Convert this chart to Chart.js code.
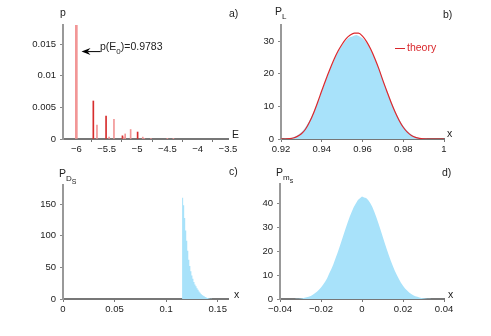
<!DOCTYPE html>
<html><head><meta charset="utf-8">
<script src="https://cdn.jsdelivr.net/npm/chart.js@4.4.1/dist/chart.umd.min.js"></script>
<style>
html,body{margin:0;padding:0;background:#fff;}
#wrap{position:relative;width:491px;height:336px;overflow:hidden;font-family:'Liberation Sans',Arial,sans-serif;color:#222;}
canvas{position:absolute;left:0;top:0;}
.lbl{position:absolute;font-size:10.5px;line-height:1;white-space:nowrap;}
.sub{position:relative;font-size:8px;top:4px;}
.sub2{position:relative;font-size:7px;top:3px;}
</style></head>
<body><div id="wrap">
<canvas id="ca" width="491" height="336"></canvas>
<canvas id="cb" width="491" height="336"></canvas>
<canvas id="cc" width="491" height="336"></canvas>
<canvas id="cd" width="491" height="336"></canvas>
<div class="lbl" style="left:60px;top:7px;">p</div>
<div class="lbl" style="left:229px;top:8px;">a)</div>
<div class="lbl" style="left:232px;top:129px;">E</div>
<div class="lbl" style="left:100px;top:41px;">p(E<span class="sub">0</span>)=0.9783</div>
<div class="lbl" style="left:275px;top:6px;">P<span class="sub">L</span></div>
<div class="lbl" style="left:443px;top:9px;">b)</div>
<div class="lbl" style="left:447px;top:128px;">x</div>
<div class="lbl" style="left:395px;top:42px;color:#d9262b;"><span style="display:inline-block;width:10px;height:1px;background:#d9262b;vertical-align:middle;margin-right:2px;"></span>theory</div>
<div class="lbl" style="left:59px;top:168px;">P<span class="sub">D<span class="sub2">S</span></span></div>
<div class="lbl" style="left:229px;top:166px;">c)</div>
<div class="lbl" style="left:234px;top:289px;">x</div>
<div class="lbl" style="left:276px;top:167px;">P<span class="sub">m<span class="sub2">s</span></span></div>
<div class="lbl" style="left:442px;top:167px;">d)</div>
<div class="lbl" style="left:448px;top:289px;">x</div>
</div>
<script>
// ---------- Data ----------
// Panel a: energy spectrum (probabilities)
const groundE = [-6];
const groundP = [0.9783];
const darkE = [-5.72, -5.51, -5.24, -4.99];
const darkP = [0.0060, 0.0036, 0.0005, 0.0011];
const lightE = [-5.66, -5.46, -5.38, -5.22, -5.195, -5.105, -4.905, -4.88, -4.77, -4.5, -4.4];
const lightP = [0.0022, 0.0003, 0.0031, 0.0003, 0.0008, 0.0015, 0.0003, 0.0001, 0.0001, 0.00004, 0.00003];
const ticksA_x = [-6, -5.5, -5, -4.5, -4, -3.5];
const ticksA_y = [0, 0.005, 0.01, 0.015];

// Panel b: P_L histogram and theory
const histB_x = [0.921,0.922,0.923,0.924,0.925,0.926,0.927,0.928,0.929,0.930,0.931,0.932,0.933,0.934,0.935,0.936,0.937,0.938,0.939,0.940,0.941,0.942,0.943,0.944,0.945,0.946,0.947,0.948,0.949,0.950,0.951,0.952,0.953,0.954,0.955,0.956,0.957,0.958,0.959,0.960,0.961,0.962,0.963,0.964,0.965,0.966,0.967,0.968,0.969,0.970,0.971,0.972,0.973,0.974,0.975,0.976,0.977,0.978,0.979,0.980,0.981,0.982,0.983,0.984,0.985,0.986,0.987,0.988,0.989,0.990,0.991,0.992];
const histB_y = [0,0.05,0.1,0.2,0.3,0.5,0.8,1.1,1.6,2.1,2.8,3.6,4.6,5.7,6.9,8.3,9.8,11.4,13.0,14.6,16.3,18.0,19.6,21.2,22.7,24.1,25.5,26.7,27.8,28.8,29.6,30.3,30.9,31.3,31.5,31.8,31.9,31.7,31.3,30.9,30.3,29.5,28.5,27.4,26.1,24.8,23.3,21.7,20.0,18.3,16.6,14.9,13.2,11.6,10.1,8.6,7.3,6.1,5.0,4.0,3.2,2.5,1.9,1.4,1.0,0.7,0.5,0.3,0.2,0.1,0.05,0];
const theoryB_x = [0.920,0.922,0.924,0.926,0.928,0.930,0.932,0.934,0.936,0.938,0.940,0.942,0.944,0.946,0.948,0.950,0.952,0.954,0.956,0.958,0.960,0.962,0.964,0.966,0.968,0.970,0.972,0.974,0.976,0.978,0.980,0.982,0.984,0.986,0.988,0.990,0.992,0.996,1.0];
const theoryB_y = [0,0,0.1,0.3,0.8,1.6,3.0,5.2,8.0,11.3,14.8,18.2,21.4,24.4,27.0,29.1,30.8,31.9,32.5,32.5,31.6,29.9,27.6,24.8,21.6,18.0,14.6,11.3,8.3,5.7,3.6,2.1,1.1,0.5,0.2,0.05,0,0,0];
const ticksB_x = [0.92, 0.94, 0.96, 0.98, 1];
const ticksB_y = [0, 10, 20, 30];

// Panel c: P_DS histogram
const histC_x = [0,0.115,0.116,0.117,0.118,0.119,0.120,0.121,0.122,0.123,0.124,0.125,0.126,0.127,0.128,0.129,0.130,0.131,0.132,0.133,0.134,0.135,0.136,0.137,0.138,0.139,0.140,0.141,0.142,0.143,0.144,0.145,0.146];
const histC_y = [0,0,160,148,128,108,92,76,62,52,44,37,32,27,23,20,17,14.5,12,10,8,6.5,5.2,4.2,3.2,2.4,1.7,1.1,0.7,0.4,0.2,0.1,0];
const ticksC_x = [0, 0.05, 0.1, 0.15];
const ticksC_y = [0, 50, 100, 150];

// Panel d: P_ms histogram
const histD_x = [-0.034,-0.033,-0.032,-0.031,-0.030,-0.029,-0.028,-0.027,-0.026,-0.025,-0.024,-0.023,-0.022,-0.021,-0.020,-0.019,-0.018,-0.017,-0.016,-0.015,-0.014,-0.013,-0.012,-0.011,-0.010,-0.009,-0.008,-0.007,-0.006,-0.005,-0.004,-0.003,-0.002,-0.001,0,0.001,0.002,0.003,0.004,0.005,0.006,0.007,0.008,0.009,0.010,0.011,0.012,0.013,0.014,0.015,0.016,0.017,0.018,0.019,0.020,0.021,0.022,0.023,0.024,0.025,0.026,0.027,0.028,0.029,0.030,0.031,0.032,0.033,0.034];
const histD_y = [0,0.05,0.1,0.15,0.25,0.35,0.5,0.7,0.95,1.3,1.8,2.4,3.0,3.9,4.8,5.9,7.2,8.7,10.6,12.4,14.4,16.8,19.1,21.6,24.2,26.8,29.4,31.9,34.3,36.4,38.4,39.9,41.3,42.1,42.8,42.4,42.2,41.3,40.1,38.5,36.4,34.1,31.6,29.0,26.3,23.6,21.0,18.5,16.1,13.9,11.8,10.0,8.3,6.8,5.5,4.4,3.5,2.7,2.1,1.6,1.2,0.9,0.65,0.45,0.3,0.2,0.12,0.06,0];
const ticksD_x = [-0.04, -0.02, 0, 0.02, 0.04];
const ticksD_y = [0, 10, 20, 30, 40];

// ---------- Helpers ----------
const FONT = {family: "'Liberation Sans', Arial, sans-serif", size: 9.5};
const TICK_COLOR = '#222';
const BLUE = 'rgb(168,226,250)';
const YW = 40, XH = 22;
const pts = (xs, ys) => xs.map((x, i) => ({x, y: ys[i]}));
function fmt(v) {
  const s = String(+v.toFixed(4));
  return s.startsWith('-') ? '\u2212' + s.slice(1) : s;
}
function axes(xmin, xmax, xt, ymin, ymax, yt) {
  return {
    x: {
      type: 'linear', min: xmin, max: xmax, offset: false,
      afterBuildTicks: s => { s.ticks = xt.map(v => ({value: v})); },
      afterFit: s => { s.height = XH; },
      grid: {display: true, drawOnChartArea: false, drawTicks: true, tickLength: 3, color: '#777', lineWidth: 1},
      border: {display: true, color: '#777', width: 2},
      ticks: {font: FONT, color: TICK_COLOR, padding: 2, maxRotation: 0, autoSkip: false, callback: v => fmt(v)}
    },
    y: {
      type: 'linear', min: ymin, max: ymax,
      afterBuildTicks: s => { s.ticks = yt.map(v => ({value: v})); },
      afterFit: s => { s.width = YW; },
      grid: {display: true, drawOnChartArea: false, drawTicks: true, tickLength: 3, color: '#888', lineWidth: 1},
      border: {display: true, color: '#999', width: 2},
      ticks: {font: FONT, color: TICK_COLOR, padding: 4, autoSkip: false, callback: v => fmt(v)}
    }
  };
}
function pad(box) {
  return {left: box.l - YW, top: box.t, right: 491 - box.r, bottom: 336 - box.b - XH};
}
const baseOpts = {responsive: false, animation: false, plugins: {legend: {display: false}, tooltip: {enabled: false}}, events: []};

// Arrow annotation plugin for panel a
const arrowPlugin = {
  id: 'arrowA',
  afterDatasetsDraw(chart) {
    const {ctx, scales: {x, y}} = chart;
    const x0 = x.getPixelForValue(-5.6), x1 = x.getPixelForValue(-5.915), yy = y.getPixelForValue(0.0138);
    ctx.save();
    ctx.strokeStyle = '#000'; ctx.fillStyle = '#000'; ctx.lineWidth = 1;
    ctx.beginPath(); ctx.moveTo(x0, yy); ctx.lineTo(x1 + 6, yy); ctx.stroke();
    ctx.beginPath(); ctx.moveTo(x1, yy); ctx.lineTo(x1 + 9, yy - 3.5); ctx.lineTo(x1 + 6, yy); ctx.lineTo(x1 + 9, yy + 3.5); ctx.closePath(); ctx.fill();
    ctx.restore();
  }
};

// ---------- Panel a ----------
new Chart(document.getElementById('ca'), {
  type: 'bar',
  data: {datasets: [
    {data: pts(groundE, groundP), backgroundColor: 'rgb(242,150,150)', barThickness: 2, grouped: false},
    {data: pts(lightE, lightP), backgroundColor: 'rgb(242,150,150)', barThickness: 1, grouped: false},
    {data: pts(darkE, darkP), backgroundColor: 'rgb(215,45,45)', barThickness: 1, grouped: false}
  ]},
  options: Object.assign({}, baseOpts, {layout: {padding: pad({l: 63, t: 25, r: 228, b: 139})}, scales: axes(-6.22, -3.5, ticksA_x, 0, 0.018, ticksA_y)}),
  plugins: [arrowPlugin]
});

// ---------- Panel b ----------
new Chart(document.getElementById('cb'), {
  type: 'line',
  data: {datasets: [
    {data: pts(theoryB_x, theoryB_y), borderColor: 'rgb(220,40,45)', borderWidth: 1.2, pointRadius: 0, fill: false, tension: 0.4, cubicInterpolationMode: 'monotone'},
    {data: pts(histB_x, histB_y), backgroundColor: BLUE, borderWidth: 0, pointRadius: 0, fill: 'origin'}
  ]},
  options: Object.assign({}, baseOpts, {layout: {padding: pad({l: 281, t: 25, r: 444, b: 139})}, scales: axes(0.92, 1, ticksB_x, 0, 35, ticksB_y)})
});

// ---------- Panel c ----------
new Chart(document.getElementById('cc'), {
  type: 'line',
  data: {datasets: [
    {data: pts(histC_x, histC_y), backgroundColor: BLUE, borderWidth: 0, pointRadius: 0, fill: 'origin', stepped: 'middle'}
  ]},
  options: Object.assign({}, baseOpts, {layout: {padding: pad({l: 63, t: 185, r: 228, b: 299})}, scales: axes(0, 0.16, ticksC_x, 0, 180, ticksC_y)})
});

// ---------- Panel d ----------
new Chart(document.getElementById('cd'), {
  type: 'line',
  data: {datasets: [
    {data: pts(histD_x, histD_y), backgroundColor: BLUE, borderWidth: 0, pointRadius: 0, fill: 'origin'}
  ]},
  options: Object.assign({}, baseOpts, {layout: {padding: pad({l: 280, t: 184, r: 444, b: 299})}, scales: axes(-0.04, 0.04, ticksD_x, 0, 48, ticksD_y)})
});
</script>
</body></html>
